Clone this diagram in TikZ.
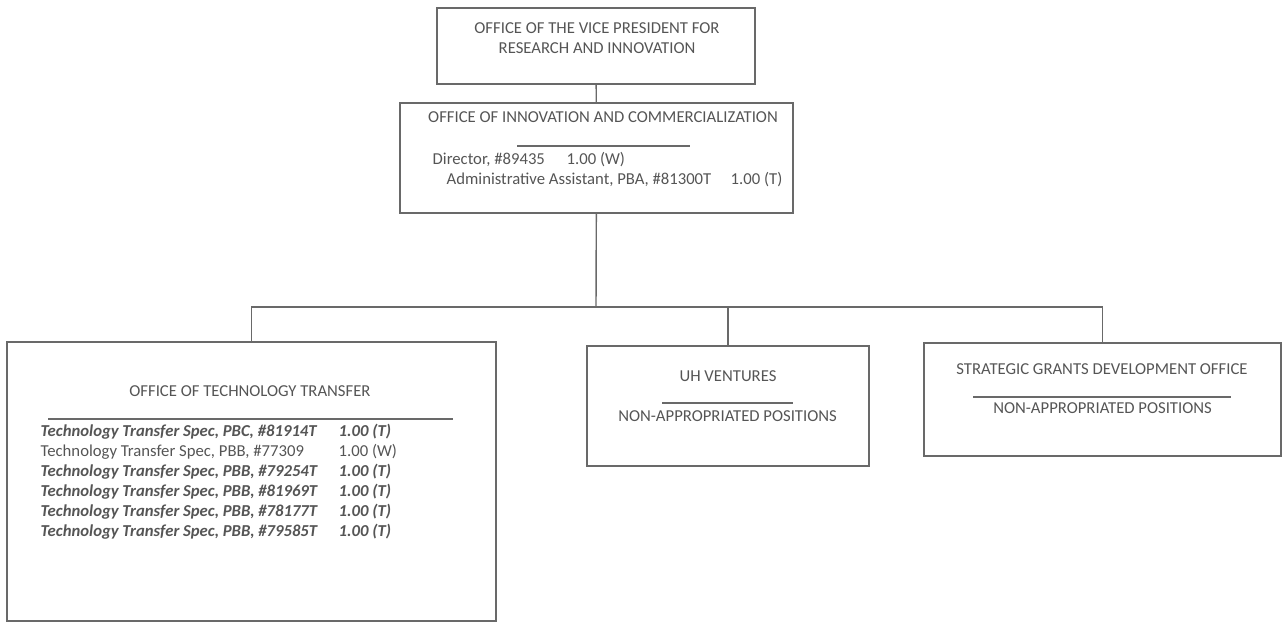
\documentclass[tikz,border=0pt]{standalone}
\usepackage{fontspec}
\setmainfont{Carlito}
\usetikzlibrary{positioning}
\definecolor{mylinegray}{RGB}{105,105,105}
\definecolor{mytextgray}{RGB}{85,85,85}

\begin{document}
\begin{tikzpicture}[x = 0.02cm, y = -0.02cm, line width = 0.8pt,
  unit/.style={draw = mylinegray, inner sep = 0},
  txt/.style={text = mytextgray, font = \fontsize{9.5}{11.3}\selectfont, inner sep = 0, anchor = mid},
  rowtxt/.style={txt, anchor = mid west}]
  \useasboundingbox (0,0) rectangle (1283,622);

  % boxes
  \node [unit, minimum width = 6.36cm, minimum height = 1.52cm] (vp) at (596,46) {};
  \node [unit, minimum width = 7.86cm, minimum height = 2.2cm] (oic) at (596.5,158) {};
  \node [unit, minimum width = 9.78cm, minimum height = 5.58cm] (ott) at (251.5,481.5) {};
  \node [unit, minimum width = 5.64cm, minimum height = 2.4cm] (uh) at (728,406) {};
  \node [unit, minimum width = 7.14cm, minimum height = 2.26cm] (sgdo) at (1102.5,399.5) {};

  % texts
  \node [txt, align = center, anchor = center] (vp-title) at (597,38) {OFFICE OF THE VICE PRESIDENT FOR\\RESEARCH AND INNOVATION};

  \node [txt] (oic-title) at (603,118) {OFFICE OF INNOVATION AND COMMERCIALIZATION};
  \node [rowtxt] (dir) at (432,160) {Director, \#89435};
  \node [rowtxt] (dir-fte) at (566,160) {1.00 (W)};
  \node [rowtxt] (adm) at (446,180) {Administrative Assistant, PBA, \#81300T};
  \node [rowtxt] (adm-fte) at (730,180) {1.00 (T)};

  \node [txt] (ott-title) at (250,392) {OFFICE OF TECHNOLOGY TRANSFER};
  \foreach \grade/\num/\fte/\shape [count = \i] in {PBC/81914T/T/\bfseries\itshape, PBB/77309/W/\normalfont,
      PBB/79254T/T/\bfseries\itshape, PBB/81969T/T/\bfseries\itshape,
      PBB/78177T/T/\bfseries\itshape, PBB/79585T/T/\bfseries\itshape} {
    \node [rowtxt, font = \fontsize{9.5}{11.3}\selectfont\shape] (spec-\i) at (40,{412+20*\i}) {Technology Transfer Spec, \grade, \#\num};
    \node [rowtxt, font = \fontsize{9.5}{11.3}\selectfont\shape] (spec-fte-\i) at (338,{412+20*\i}) {1.00 (\fte)};
  }

  \node [txt] (uh-title) at (728,377) {UH VENTURES};
  \node [txt] (uh-pos) at (727.5,417) {NON-APPROPRIATED POSITIONS};

  \node [txt] (sgdo-title) at (1102,370) {STRATEGIC GRANTS DEVELOPMENT OFFICE};
  \node [txt] (sgdo-pos) at (1102.5,409) {NON-APPROPRIATED POSITIONS};

  % rules
  \draw [mylinegray] (517,146) -- (690,146);
  \draw [mylinegray] (48,419) -- (453,419);
  \draw [mylinegray] (662,403) -- (793,403);
  \draw [mylinegray] (973,397) -- (1231,397);

  % edges
  \coordinate (bus) at (596,307);
  \draw [mylinegray] (vp) -- (oic);
  \draw [mylinegray] (oic) -- (bus);
  \draw [mylinegray] (ott.north) |- (bus) -| (sgdo.north);
  \draw [mylinegray] (bus -| uh.north) -- (uh.north);
\end{tikzpicture}
\end{document}
